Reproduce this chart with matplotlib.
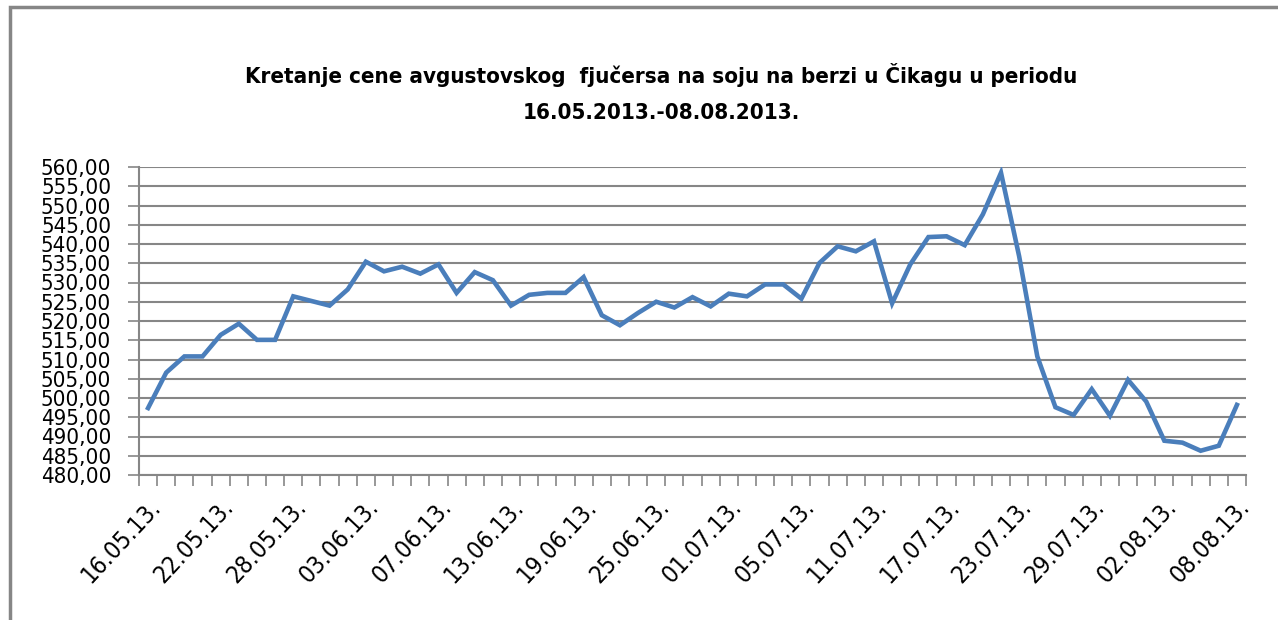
import matplotlib
matplotlib.use('Agg')
import matplotlib.pyplot as plt
from matplotlib.patches import Rectangle
from matplotlib.ticker import FixedLocator, FuncFormatter

# cene (centi/bušel), trgovacki dani 16.05.2013. - 08.08.2013.
prices = [497.4, 506.6, 510.8, 510.8, 516.4, 519.3, 515.1, 515.1, 526.4, 525.2,
          524.0, 528.2, 535.4, 532.9, 534.1, 532.3, 534.7, 527.3, 532.7, 530.6,
          524.0, 526.8, 527.3, 527.3, 531.4, 521.5, 518.9, 522.1, 525.0, 523.5,
          526.2, 523.8, 527.1, 526.4, 529.5, 529.5, 525.8, 535.1, 539.4, 538.1,
          540.7, 524.6, 534.7, 541.8, 542.0, 539.7, 547.7, 558.5, 536.8, 510.8,
          497.6, 495.6, 502.3, 495.4, 504.7, 499.1, 488.9, 488.4, 486.3, 487.6,
          498.2]

# svaki cetvrti dan ima oznaku
tick_labels = ['16.05.13.', '22.05.13.', '28.05.13.', '03.06.13.', '07.06.13.',
               '13.06.13.', '19.06.13.', '25.06.13.', '01.07.13.', '05.07.13.',
               '11.07.13.', '17.07.13.', '23.07.13.', '29.07.13.', '02.08.13.',
               '08.08.13.']
tick_step = 4

y_min, y_max, y_step = 480, 560, 5

title_1 = 'Kretanje cene avgustovskog  fjučersa na soju na berzi u Čikagu u periodu'
title_2 = '16.05.2013.-08.08.2013.'

gray = '#868686'

fig = plt.figure(figsize=(12.78, 6.2), dpi=100)
ax = fig.add_axes([139 / 1278, 1 - 475 / 620, 1107 / 1278, 308 / 620])

x = list(range(len(prices)))
ax.plot(x, prices, color='#4A7EBB', linewidth=3.3, solid_joinstyle='miter', zorder=3)

ax.set_xlim(-0.5, len(prices) - 0.5)
ax.set_ylim(y_min, y_max)

yt = list(range(y_min, y_max + 1, y_step))
ax.set_yticks(yt)
ax.yaxis.set_major_formatter(FuncFormatter(lambda v, p: f'{v:.2f}'.replace('.', ',')))
ax.grid(axis='y', color=gray, linewidth=1.5)
ax.tick_params(axis='y', length=8, width=1.2, color=gray, pad=12, labelsize=16)
for t in ax.get_yticklabels():
    t.set_fontstretch('condensed')

# oznake na sredini kategorije, crtice izmedju kategorija
ax.set_xticks(x[::tick_step])
ax.set_xticklabels(tick_labels, rotation=47, ha='right', rotation_mode='anchor',
                   fontsize=17.5, fontstretch='condensed')
ax.xaxis.set_minor_locator(FixedLocator([i - 0.5 for i in range(len(prices) + 1)]))
ax.tick_params(axis='x', which='major', length=0, pad=14)
ax.tick_params(axis='x', which='minor', length=8, width=1.2, color=gray)

for s in ['top', 'right']:
    ax.spines[s].set_visible(False)
for s in ['left', 'bottom']:
    ax.spines[s].set_color(gray)
    ax.spines[s].set_linewidth(1.5)

fig.text(661 / 1278, 1 - 75 / 620, title_1, ha='center', va='center',
         fontsize=16, fontweight='bold', fontstretch='condensed')
fig.text(661 / 1278, 1 - 113 / 620, title_2, ha='center', va='center',
         fontsize=16, fontweight='bold', fontstretch='condensed')

# okvir grafikona
fig.patches.append(Rectangle((10 / 1278, -0.1), 1.2, 1 - 7 / 620 + 0.1,
                             transform=fig.transFigure, fill=False,
                             edgecolor=gray, linewidth=2.5))

fig.savefig('out.png', dpi=100)
